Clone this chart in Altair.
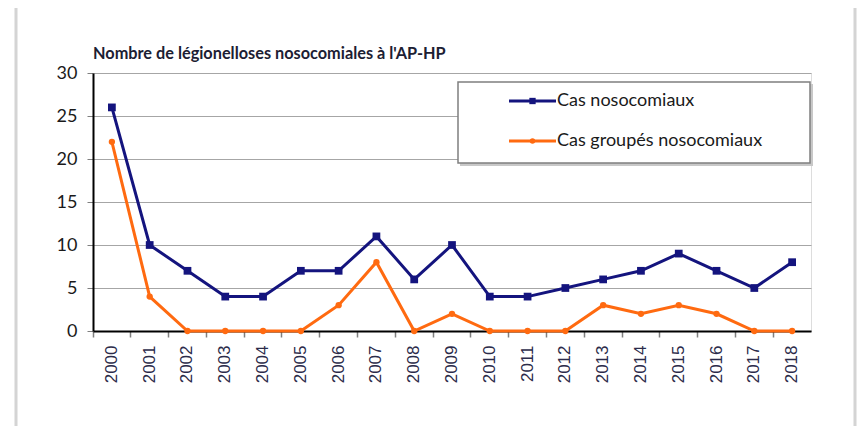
import altair as alt
import pandas as pd

years = [str(y) for y in range(2000, 2019)]
cas_noso = [26, 10, 7, 4, 4, 7, 7, 11, 6, 10, 4, 4, 5, 6, 7, 9, 7, 5, 8]
cas_groupes = [22, 4, 0, 0, 0, 0, 3, 8, 0, 2, 0, 0, 0, 3, 2, 3, 2, 0, 0]
series = ["Cas nosocomiaux", "Cas groupés nosocomiaux"]
colors = ["#14147e", "#ff6a10"]
title_text = "Nombre de légionelloses nosocomiales à l'AP-HP"

df = pd.DataFrame({
    "year": years * 2,
    "value": cas_noso + cas_groupes,
    "series": [series[0]] * len(years) + [series[1]] * len(years),
})

W, H = 718, 258

x_enc = alt.X("year:O", sort=years,
              scale=alt.Scale(type="band", paddingInner=0, paddingOuter=0),
              axis=alt.Axis(title=None, labelAngle=-90, bandPosition=0,
                            labelFont="Liberation Sans", labelFontSize=17, labelColor="#2b2b4a",
                            labelPadding=8, tickSize=6, tickColor="#7f7f7f", tickWidth=1.5,
                            domainColor="#000000", domainWidth=2, grid=False))
y_enc = alt.Y("value:Q", scale=alt.Scale(domain=[0, 30], nice=False),
              axis=alt.Axis(title=None, values=[0, 5, 10, 15, 20, 25, 30],
                            labelFont="Lato", labelFontSize=18, labelColor="#1a1a1a",
                            labelPadding=10, tickSize=6, tickColor="#7f7f7f",
                            domainColor="#000000", domainWidth=2,
                            grid=True, gridColor="#a6a6a6", gridWidth=1.2))
color_enc = alt.Color("series:N", scale=alt.Scale(domain=series, range=colors), legend=None)

base = alt.Chart(df)
lines = base.mark_line(strokeWidth=3).encode(x=x_enc, y=y_enc, color=color_enc, detail="series:N")
sq = base.transform_filter(alt.datum.series == series[0]).mark_square(size=60, opacity=1, filled=True).encode(
    x=x_enc, y=y_enc, color=color_enc)
ci = base.transform_filter(alt.datum.series == series[1]).mark_circle(size=40, opacity=1).encode(
    x=x_enc, y=y_enc, color=color_enc)

# outer frame
frame = alt.Chart(pd.DataFrame({"a": [0]})).mark_rect(filled=False, stroke="#d4d4d4", strokeWidth=3).encode(
    x=alt.value(-77), x2=alt.value(762), y=alt.value(-68), y2=alt.value(420))

# title
title = alt.Chart(pd.DataFrame({"t": [title_text]})).mark_text(
    align="left", baseline="alphabetic", font="Lato", fontSize=16.3, fontWeight="bold", color="#1c2033"
).encode(x=alt.value(0), y=alt.value(-14), text="t:N")

# legend (manual, Excel style)
leg_df = pd.DataFrame({"a": [0]})
leg_box_shadow = alt.Chart(leg_df).mark_rect(fill="#c8c8c8").encode(
    x=alt.value(367), x2=alt.value(720), y=alt.value(11), y2=alt.value(93))
leg_box = alt.Chart(leg_df).mark_rect(fill="white", stroke="#7f7f7f", strokeWidth=1.5).encode(
    x=alt.value(365), x2=alt.value(717), y=alt.value(9), y2=alt.value(90))
leg_layers = [leg_box_shadow, leg_box]
row_y = [28, 68]
for i, s in enumerate(series):
    d = pd.DataFrame({"series": [s]})
    leg_layers.append(alt.Chart(d).mark_rule(strokeWidth=3, color=colors[i]).encode(
        x=alt.value(416), x2=alt.value(463), y=alt.value(row_y[i])))
    if i == 0:
        leg_layers.append(alt.Chart(d).mark_square(size=40, opacity=1, color=colors[i]).encode(
            x=alt.value(439.5), y=alt.value(row_y[i])))
    else:
        leg_layers.append(alt.Chart(d).mark_circle(size=30, opacity=1, color=colors[i]).encode(
            x=alt.value(439.5), y=alt.value(row_y[i])))
    leg_layers.append(alt.Chart(d).mark_text(align="left", baseline="middle", font="Lato",
                                             fontSize=18, color="#1a1a1a").encode(
        x=alt.value(464), y=alt.value(row_y[i]), text="series:N"))

chart = alt.layer(frame, title, lines, sq, ci, *leg_layers).properties(
    width=W, height=H,
    autosize=alt.AutoSizeParams(type="none"),
    padding={"left": 85, "top": 65, "right": 46, "bottom": 95},
).configure_view(stroke="#8c8c8c", strokeWidth=1.5).configure(background="white")

chart.save("out.html", embed_options={"renderer": "svg", "actions": False})
